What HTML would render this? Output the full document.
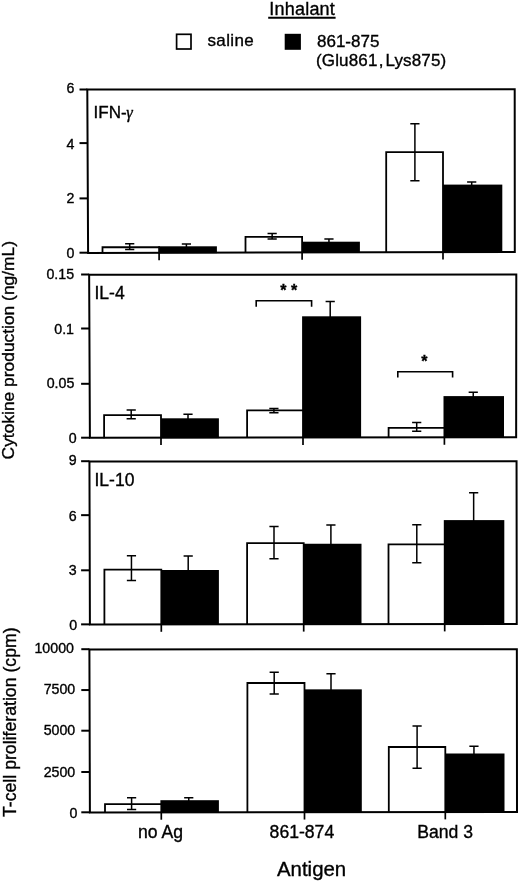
<!DOCTYPE html>
<html><head><meta charset="utf-8"><title>Cytokine production</title>
<style>
html,body{margin:0;padding:0;background:#fff;}
body{width:520px;height:881px;overflow:hidden;}
svg{display:block;filter:blur(0.35px);}
text{font-family:"Liberation Sans", Arial, Helvetica, sans-serif;fill:#000;stroke:#000;stroke-width:0.35px;}
.t{font-size:14.2px;}
.pl{font-size:17.5px;}
.g{font-family:"Liberation Serif","DejaVu Serif",serif;font-style:italic;font-size:16.5px;}
.st{font-size:16px;font-weight:bold;}
.lg{font-size:17px;}
.xl{font-size:17.6px;}
.ax{font-size:20.4px;}
.yl{font-size:17.4px;}
</style></head>
<body>
<svg width="520" height="881" viewBox="0 0 520 881">
<rect width="520" height="881" fill="#fff"/>
<rect x="158.20" y="246.30" width="58.70" height="6.89" fill="#000"/>
<rect x="301.20" y="241.70" width="58.70" height="11.19" fill="#000"/>
<rect x="442.10" y="184.60" width="60.20" height="67.99" fill="#000"/>
<path d="M102.50 253.31V247.25H159.10V253.31" fill="#fff" stroke="#000" stroke-width="1.8"/>
<path d="M245.50 253.01V236.95H302.10V253.01" fill="#fff" stroke="#000" stroke-width="1.8"/>
<path d="M386.20 252.71V152.10H443.00V252.71" fill="#fff" stroke="#000" stroke-width="1.8"/>
<path d="M129.70 243.80V249.40M125.10 243.80H134.30M125.10 249.40H134.30" stroke="#000" stroke-width="1.5" fill="none"/>
<path d="M186.40 243.95V250.00M181.80 243.95H191.00M181.80 250.00H191.00" stroke="#000" stroke-width="1.5" fill="none"/>
<path d="M272.15 233.45V239.10M267.55 233.45H276.75M267.55 239.10H276.75" stroke="#000" stroke-width="1.5" fill="none"/>
<path d="M328.95 238.95V245.00M324.35 238.95H333.55M324.35 245.00H333.55" stroke="#000" stroke-width="1.5" fill="none"/>
<path d="M414.90 123.70V180.70M410.30 123.70H419.50M410.30 180.70H419.50" stroke="#000" stroke-width="1.5" fill="none"/>
<path d="M471.70 182.00V189.00M467.10 182.00H476.30M467.10 189.00H476.30" stroke="#000" stroke-width="1.5" fill="none"/>
<path d="M87.30 89.60L514.70 89.35L514.80 252.00L88.10 252.90Z" fill="none" stroke="#000" stroke-width="2.0" stroke-linejoin="miter"/>
<path d="M79.50 89.50H87.30" stroke="#000" stroke-width="2.0"/>
<text x="74.30" y="93.43" text-anchor="end" class="t">6</text>
<path d="M79.50 143.10H87.56" stroke="#000" stroke-width="2.0"/>
<text x="74.30" y="148.73" text-anchor="end" class="t">4</text>
<path d="M79.50 198.40H87.83" stroke="#000" stroke-width="2.0"/>
<text x="74.30" y="202.78" text-anchor="end" class="t">2</text>
<path d="M79.50 252.70H88.10" stroke="#000" stroke-width="2.0"/>
<text x="74.50" y="258.38" text-anchor="end" class="t">0</text>
<path d="M159.10 252.75V260.15" stroke="#000" stroke-width="1.7"/>
<path d="M302.10 252.45V259.85" stroke="#000" stroke-width="1.7"/>
<path d="M443.00 252.15V259.55" stroke="#000" stroke-width="1.7"/>
<text x="93.6" y="118.0" class="pl" style="font-size:17px">IFN-<tspan class="g" dx="-0.4">&#947;</tspan></text>
<rect x="160.10" y="418.30" width="58.80" height="19.88" fill="#000"/>
<rect x="302.10" y="316.30" width="59.00" height="121.72" fill="#000"/>
<rect x="443.50" y="396.10" width="60.50" height="41.75" fill="#000"/>
<path d="M104.10 438.25V415.10H161.00V438.25" fill="#fff" stroke="#000" stroke-width="1.8"/>
<path d="M247.10 438.08V410.40H303.00V438.08" fill="#fff" stroke="#000" stroke-width="1.8"/>
<path d="M388.60 437.92V427.80H444.40V437.92" fill="#fff" stroke="#000" stroke-width="1.8"/>
<path d="M131.20 410.00V418.85M126.60 410.00H135.80M126.60 418.85H135.80" stroke="#000" stroke-width="1.5" fill="none"/>
<path d="M188.00 414.15V422.00M183.40 414.15H192.60M183.40 422.00H192.60" stroke="#000" stroke-width="1.5" fill="none"/>
<path d="M273.90 408.40V412.85M269.30 408.40H278.50M269.30 412.85H278.50" stroke="#000" stroke-width="1.5" fill="none"/>
<path d="M330.20 301.60V330.00M325.60 301.60H334.80M325.60 330.00H334.80" stroke="#000" stroke-width="1.5" fill="none"/>
<path d="M416.70 422.50V431.30M412.10 422.50H421.30M412.10 431.30H421.30" stroke="#000" stroke-width="1.5" fill="none"/>
<path d="M473.25 392.20V400.00M468.65 392.20H477.85M468.65 400.00H477.85" stroke="#000" stroke-width="1.5" fill="none"/>
<path d="M89.15 274.80L516.30 274.50L516.15 437.30L89.90 437.80Z" fill="none" stroke="#000" stroke-width="2.0" stroke-linejoin="miter"/>
<path d="M81.10 274.50H89.15" stroke="#000" stroke-width="2.0"/>
<text x="74.10" y="278.98" text-anchor="end" class="t">0.15</text>
<path d="M81.10 328.50H89.40" stroke="#000" stroke-width="2.0"/>
<text x="74.00" y="334.18" text-anchor="end" class="t">0.1</text>
<path d="M81.10 383.80H89.65" stroke="#000" stroke-width="2.0"/>
<text x="74.30" y="387.98" text-anchor="end" class="t">0.05</text>
<path d="M81.10 437.70H89.90" stroke="#000" stroke-width="2.0"/>
<text x="76.60" y="443.33" text-anchor="end" class="t">0</text>
<path d="M161.00 437.72V445.12" stroke="#000" stroke-width="1.7"/>
<path d="M303.00 437.55V444.95" stroke="#000" stroke-width="1.7"/>
<path d="M444.40 437.38V444.78" stroke="#000" stroke-width="1.7"/>
<text x="94.5" y="298.7" class="pl">IL-4</text>
<rect x="160.40" y="570.00" width="58.50" height="54.86" fill="#000"/>
<rect x="302.80" y="543.75" width="58.70" height="80.91" fill="#000"/>
<rect x="443.80" y="520.10" width="60.50" height="104.36" fill="#000"/>
<path d="M104.40 624.94V569.70H161.30V624.94" fill="#fff" stroke="#000" stroke-width="1.8"/>
<path d="M247.10 624.74V543.10H303.70V624.74" fill="#fff" stroke="#000" stroke-width="1.8"/>
<path d="M388.50 624.54V544.40H444.70V624.54" fill="#fff" stroke="#000" stroke-width="1.8"/>
<path d="M131.45 555.85V580.50M126.85 555.85H136.05M126.85 580.50H136.05" stroke="#000" stroke-width="1.5" fill="none"/>
<path d="M188.20 555.95V585.00M183.60 555.95H192.80M183.60 585.00H192.80" stroke="#000" stroke-width="1.5" fill="none"/>
<path d="M274.00 526.55V558.85M269.40 526.55H278.60M269.40 558.85H278.60" stroke="#000" stroke-width="1.5" fill="none"/>
<path d="M330.90 524.95V560.00M326.30 524.95H335.50M326.30 560.00H335.50" stroke="#000" stroke-width="1.5" fill="none"/>
<path d="M416.80 524.70V562.85M412.20 524.70H421.40M412.20 562.85H421.40" stroke="#000" stroke-width="1.5" fill="none"/>
<path d="M473.65 492.85V550.00M469.05 492.85H478.25M469.05 550.00H478.25" stroke="#000" stroke-width="1.5" fill="none"/>
<path d="M89.45 461.60L516.55 461.15L516.75 623.90L89.90 624.50Z" fill="none" stroke="#000" stroke-width="2.0" stroke-linejoin="miter"/>
<path d="M81.10 461.20H89.45" stroke="#000" stroke-width="2.0"/>
<text x="76.70" y="465.48" text-anchor="end" class="t">9</text>
<path d="M81.10 515.15H89.60" stroke="#000" stroke-width="2.0"/>
<text x="76.70" y="520.58" text-anchor="end" class="t">6</text>
<path d="M81.10 570.30H89.75" stroke="#000" stroke-width="2.0"/>
<text x="76.70" y="574.88" text-anchor="end" class="t">3</text>
<path d="M81.10 624.35H89.90" stroke="#000" stroke-width="2.0"/>
<text x="77.10" y="630.08" text-anchor="end" class="t">0</text>
<path d="M161.30 624.40V631.80" stroke="#000" stroke-width="1.7"/>
<path d="M303.70 624.20V631.60" stroke="#000" stroke-width="1.7"/>
<path d="M444.70 624.00V631.40" stroke="#000" stroke-width="1.7"/>
<text x="94.5" y="485.8" class="pl">IL-10</text>
<rect x="160.40" y="800.20" width="58.50" height="12.58" fill="#000"/>
<rect x="303.60" y="689.35" width="58.20" height="123.27" fill="#000"/>
<rect x="444.40" y="753.50" width="60.10" height="58.95" fill="#000"/>
<path d="M105.00 812.85V804.15H161.30V812.85" fill="#fff" stroke="#000" stroke-width="1.8"/>
<path d="M247.40 812.68V683.00H304.50V812.68" fill="#fff" stroke="#000" stroke-width="1.8"/>
<path d="M388.80 812.52V747.00H445.30V812.52" fill="#fff" stroke="#000" stroke-width="1.8"/>
<path d="M131.60 797.85V809.45M127.00 797.85H136.20M127.00 809.45H136.20" stroke="#000" stroke-width="1.5" fill="none"/>
<path d="M188.75 797.80V804.00M184.15 797.80H193.35M184.15 804.00H193.35" stroke="#000" stroke-width="1.5" fill="none"/>
<path d="M274.20 672.25V694.10M269.60 672.25H278.80M269.60 694.10H278.80" stroke="#000" stroke-width="1.5" fill="none"/>
<path d="M331.00 673.65V700.00M326.40 673.65H335.60M326.40 700.00H335.60" stroke="#000" stroke-width="1.5" fill="none"/>
<path d="M417.10 726.00V768.25M412.50 726.00H421.70M412.50 768.25H421.70" stroke="#000" stroke-width="1.5" fill="none"/>
<path d="M473.95 746.30V760.00M469.35 746.30H478.55M469.35 760.00H478.55" stroke="#000" stroke-width="1.5" fill="none"/>
<path d="M89.40 649.40L516.85 649.15L517.00 811.90L89.90 812.40Z" fill="none" stroke="#000" stroke-width="2.0" stroke-linejoin="miter"/>
<path d="M81.30 649.20H89.40" stroke="#000" stroke-width="2.0"/>
<text x="73.95" y="653.28" text-anchor="end" class="t">10000</text>
<path d="M81.30 690.05H89.52" stroke="#000" stroke-width="2.0"/>
<text x="75.20" y="694.38" text-anchor="end" class="t">7500</text>
<path d="M81.30 730.70H89.65" stroke="#000" stroke-width="2.0"/>
<text x="75.20" y="735.08" text-anchor="end" class="t">5000</text>
<path d="M81.30 772.00H89.78" stroke="#000" stroke-width="2.0"/>
<text x="75.20" y="777.38" text-anchor="end" class="t">2500</text>
<path d="M81.30 812.30H89.90" stroke="#000" stroke-width="2.0"/>
<text x="77.50" y="818.23" text-anchor="end" class="t">0</text>
<path d="M161.30 812.32V819.72" stroke="#000" stroke-width="1.7"/>
<path d="M304.50 812.15V819.55" stroke="#000" stroke-width="1.7"/>
<path d="M445.30 811.98V819.38" stroke="#000" stroke-width="1.7"/>
<path d="M256.2 306.8V300.7H311.6V306.8" fill="none" stroke="#000" stroke-width="1.6"/>
<text x="288.8" y="296.2" text-anchor="middle" class="st">* *</text>
<path d="M397.8 377.6V371.7H452.6V377.6" fill="none" stroke="#000" stroke-width="1.6"/>
<text x="424.4" y="367.2" text-anchor="middle" class="st">*</text>
<text x="302.2" y="14.8" text-anchor="middle" class="lg" style="font-size:18px;letter-spacing:0.2px">Inhalant</text>
<path d="M268.2 17.8H335.6" stroke="#000" stroke-width="2"/>
<rect x="176.6" y="34.3" width="14.4" height="14.7" fill="#fff" stroke="#000" stroke-width="1.7"/>
<text x="207.5" y="45.6" class="lg" style="letter-spacing:0.35px">saline</text>
<rect x="284.7" y="33.8" width="16.2" height="16" fill="#000"/>
<text x="317" y="47" class="lg">861-875</text>
<text x="316" y="65.8" class="lg" style="letter-spacing:0.15px">(Glu861<tspan dx="1.3">,</tspan><tspan dx="1.7">Lys875)</tspan></text>
<text x="160.5" y="838" text-anchor="middle" class="xl">no Ag</text>
<text x="301.9" y="838" text-anchor="middle" class="xl">861-874</text>
<text x="445.2" y="838" text-anchor="middle" class="xl">Band 3</text>
<text x="311.6" y="876.2" text-anchor="middle" class="ax">Antigen</text>
<text transform="translate(14.3 350.2) rotate(-90)" text-anchor="middle" class="yl">Cytokine production (ng/mL)</text>
<text transform="translate(16.3 722.2) rotate(-90)" text-anchor="middle" class="yl" style="font-size:17.7px">T-cell proliferation (cpm)</text>
</svg>
</body></html>
